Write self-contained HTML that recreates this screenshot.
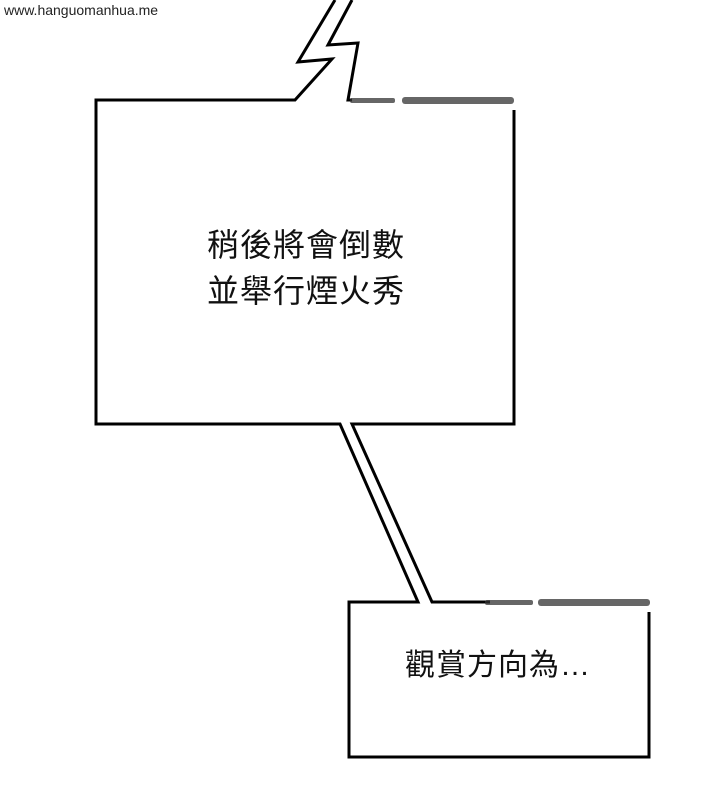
<!DOCTYPE html>
<html><head><meta charset="utf-8"><style>
body{margin:0;width:720px;height:800px;background:#fff;overflow:hidden;position:relative;font-family:"Liberation Sans","Noto Sans CJK TC",sans-serif}
.t{position:absolute;color:#111;white-space:nowrap}
</style></head><body>
<svg width="720" height="800" style="position:absolute;left:0;top:0">
<g fill="none" stroke="#000" stroke-width="3" stroke-linejoin="miter">
<polyline points="352,100 348,100 358,43 328,45 352,0"/>
<polyline points="335,0 298,62 332,59 295,100 96,100 96,424 340,424 418,602 349,602 349,757 649,757 649,612"/>
<polyline points="514,110 514,424 352,424 432,602 490,602"/>
</g>
<g fill="#333" opacity="0.75">
<rect x="350" y="98" width="45" height="5" rx="2"/>
<rect x="402" y="97" width="112" height="7" rx="3"/>
<rect x="485" y="600" width="48" height="5" rx="2"/>
<rect x="538" y="599" width="112" height="7" rx="3"/>
</g>
</svg>
<div class="t" style="left:4px;top:2px;font-size:14px;color:#222">www.hanguomanhua.me</div>
<div class="t" style="left:207px;top:222px;font-size:32px;line-height:46px;letter-spacing:1px">稍後將會倒數<br>並舉行煙火秀</div>
<div class="t" style="left:405px;top:640px;font-size:30px;letter-spacing:1px">觀賞方向為…</div>
</body></html>
